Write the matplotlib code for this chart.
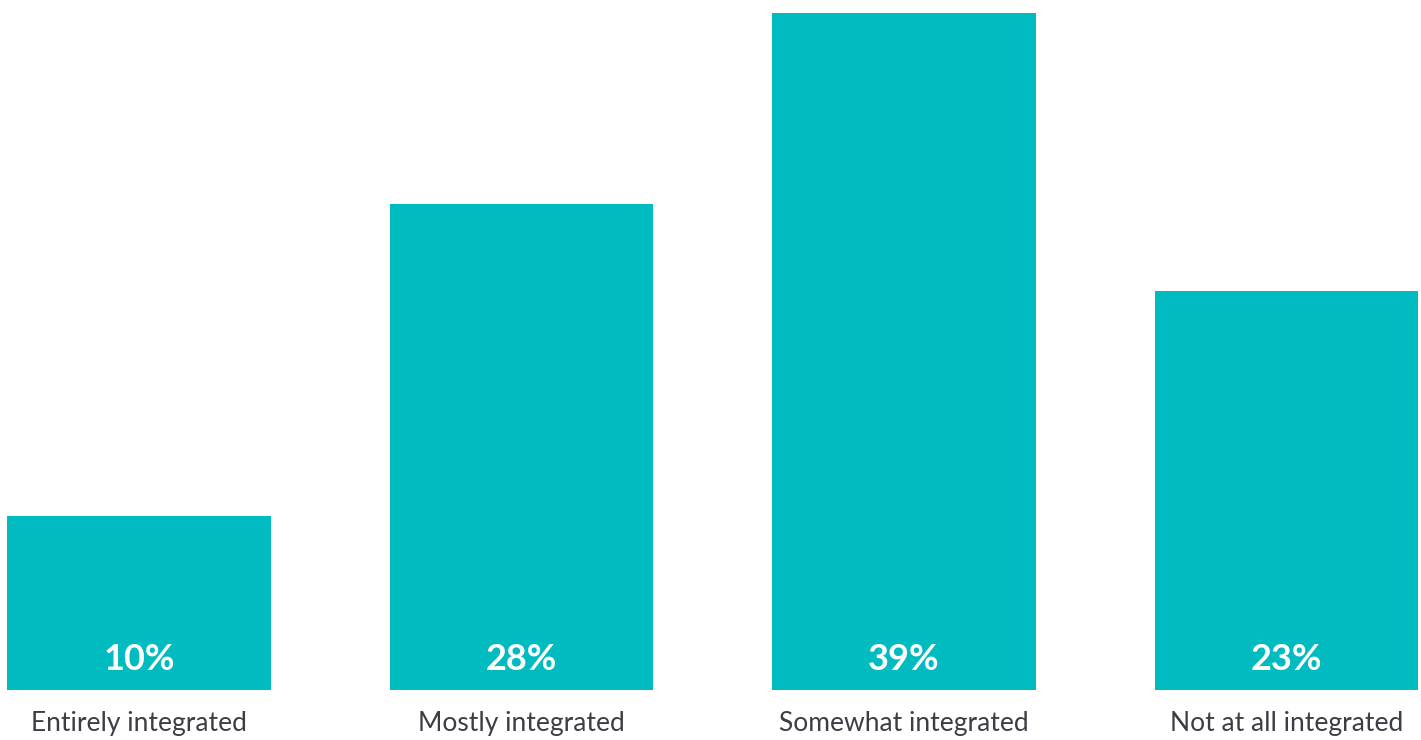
import matplotlib
matplotlib.use("Agg")
import matplotlib.pyplot as plt
from matplotlib.transforms import blended_transform_factory

categories = ["Entirely integrated", "Mostly integrated", "Somewhat integrated", "Not at all integrated"]
values = [10, 28, 39, 23]
value_labels = ["10%", "28%", "39%", "23%"]

bar_color = "#00BBBF"
text_color = "#3D3D46"

fig = plt.figure(figsize=(14.21, 7.40), dpi=100)
ax = fig.add_axes([0, 50 / 740, 1, 690 / 740])

x = list(range(len(categories)))
ax.bar(x, values, width=0.688, color=bar_color, linewidth=0)

ax.set_xlim(-0.3634, 3.3516)
ax.set_ylim(0, 39 * 690 / 677)
ax.axis("off")

trans = blended_transform_factory(ax.transData, fig.transFigure)
for xi, lab in zip(x, value_labels):
    ax.text(xi, 80 / 740, lab, transform=trans, ha="center", va="center",
            color="white", fontsize=26, fontweight="bold", family="Lato")

for xi, cat in zip(x, categories):
    ax.text(xi, 16 / 740, cat, transform=trans, ha="center", va="center",
            color=text_color, fontsize=19, family="Lato")

fig.savefig("out.png", dpi=100)
